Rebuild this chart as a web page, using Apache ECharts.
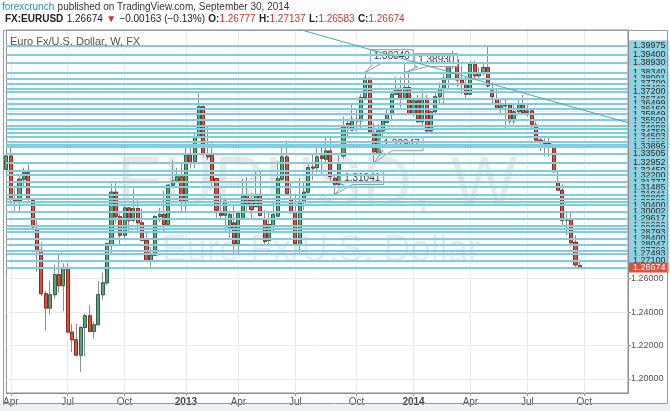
<!DOCTYPE html>
<html><head><meta charset="utf-8">
<script src="https://cdn.jsdelivr.net/npm/echarts@6/dist/echarts.min.js"></script>
<style>html,body{margin:0;padding:0;background:#fff;overflow:hidden}#c{width:670px;height:411px}</style>
</head><body><div id="c"></div>
<script>
// ---- data ----
const startWeek = [2012, 2, 26];      // first weekly bar (Mon 26 Mar 2012)
const totalSlots = 143;               // bars + empty future slots on the axis
const tickIdx  = [1, 14, 27, 41, 53, 66, 80, 93, 106, 119, 132];
const tickText = ['Apr','Jul','Oct','2013','Apr','Jul','Oct','2014','Apr','Jul','Oct'];

const opens = [1.3255,1.3335,1.3079,1.3068,1.3195,1.3235,1.3068,1.2900,1.2770,1.2510,1.2424,1.2504,1.2624,1.2558,1.2660,1.2280,1.2234,1.2142,1.2308,1.2378,
1.2284,1.2324,1.2504,1.2575,1.2804,1.3118,1.2971,1.2860,1.3024,1.2950,1.3020,1.2935,1.2830,1.2710,1.2740,1.2972,1.2985,1.2925,1.3160,1.3185,
1.3210,1.3060,1.3340,1.3300,1.3450,1.3630,1.3345,1.3340,1.3200,1.2990,1.2980,1.2894,1.2934,1.2810,1.2958,1.3100,1.3070,1.3031,1.3105,1.2960,
1.2830,1.2918,1.2974,1.3195,1.3329,1.3074,1.2998,1.2800,1.3058,1.3118,1.3268,1.3265,1.3335,1.3315,1.3365,1.3201,1.3165,1.3335,1.3529,1.3490,
1.3555,1.3545,1.3685,1.3800,1.3477,1.3345,1.3485,1.3535,1.3590,1.3705,1.3740,1.3675,1.3745,1.3590,1.3665,1.3540,1.3680,1.3485,1.3600,1.3690,
1.3740,1.3800,1.3910,1.3910,1.3790,1.3765,1.3705,1.3885,1.3815,1.3830,1.3865,1.3725,1.3675,1.3620,1.3635,1.3640,1.3545,1.3600,1.3645,1.3595,
1.3605,1.3520,1.3430,1.3420,1.3410,1.3400,1.3178,1.3130,1.2950,1.2958,1.2818,1.26777];
const highs = [1.3385,1.3385,1.3140,1.3214,1.3265,1.3283,1.3072,1.2950,1.2816,1.2525,1.2588,1.2684,1.2748,1.2692,1.2694,1.2330,1.2330,1.2314,1.2390,1.2444,
1.2345,1.2587,1.2637,1.2816,1.3170,1.3172,1.2990,1.3040,1.3030,1.3140,1.3070,1.3020,1.2880,1.2790,1.2980,1.3025,1.3125,1.3165,1.3308,1.3265,
1.3300,1.3403,1.3400,1.3480,1.3711,1.3640,1.3520,1.3410,1.3200,1.3110,1.3080,1.3000,1.3040,1.3000,1.3200,1.3210,1.3110,1.3240,1.3240,1.3010,
1.3000,1.3060,1.3305,1.3390,1.3416,1.3180,1.3110,1.3205,1.3180,1.3295,1.3345,1.3400,1.3390,1.3450,1.3450,1.3230,1.3340,1.3570,1.3545,1.3645,
1.3610,1.3705,1.3834,1.3800,1.3535,1.3525,1.3553,1.3620,1.3710,1.3810,1.3810,1.3893,1.3830,1.3685,1.3700,1.3740,1.3700,1.3620,1.3715,1.3775,
1.3825,1.3915,1.3967,1.3935,1.3875,1.3810,1.3905,1.3905,1.3865,1.3890,1.3993,1.3775,1.3735,1.3675,1.3670,1.3645,1.3645,1.3680,1.3700,1.3650,
1.3615,1.3540,1.3445,1.3440,1.3445,1.3400,1.3245,1.3165,1.2990,1.3000,1.2860,1.27137];
const lows = [1.3212,1.3034,1.3003,1.2996,1.3150,1.3067,1.2900,1.2641,1.2495,1.2288,1.2385,1.2480,1.2515,1.2405,1.2280,1.2160,1.2143,1.2042,1.2135,1.2280,
1.2241,1.2320,1.2475,1.2560,1.2750,1.2930,1.2802,1.2835,1.2880,1.2940,1.2880,1.2830,1.2700,1.2661,1.2735,1.2940,1.2880,1.2925,1.3150,1.3180,
1.3000,1.2997,1.3260,1.3260,1.3440,1.3330,1.3310,1.3140,1.2965,1.2955,1.2880,1.2845,1.2745,1.2745,1.2955,1.2995,1.2950,1.3030,1.2975,1.2800,
1.2800,1.2880,1.2970,1.3180,1.3100,1.2990,1.2800,1.2755,1.3010,1.3110,1.3190,1.3235,1.3220,1.3300,1.3180,1.3104,1.3150,1.3320,1.3445,1.3490,
1.3480,1.3490,1.3675,1.3470,1.3295,1.3345,1.3400,1.3535,1.3545,1.3700,1.3625,1.3670,1.3590,1.3570,1.3530,1.3515,1.3480,1.3477,1.3580,1.3650,
1.3640,1.3730,1.3855,1.3750,1.3705,1.3670,1.3700,1.3790,1.3795,1.3815,1.3745,1.3645,1.3615,1.3585,1.3503,1.3525,1.3525,1.3590,1.3585,1.3570,
1.3490,1.3420,1.3365,1.3335,1.3330,1.3240,1.3130,1.2920,1.2860,1.2810,1.2665,1.26583];
const closes = [1.3335,1.3079,1.3068,1.3195,1.3235,1.3080,1.2910,1.2770,1.2510,1.2424,1.2504,1.2624,1.2558,1.2660,1.2280,1.2234,1.2142,1.2308,1.2378,1.2284,
1.2324,1.2504,1.2575,1.2810,1.3118,1.2971,1.2860,1.3024,1.2950,1.3020,1.2935,1.2830,1.2710,1.2740,1.2972,1.2985,1.2925,1.3160,1.3185,1.3210,
1.3060,1.3340,1.3300,1.3450,1.3630,1.3345,1.3330,1.3180,1.3010,1.2980,1.3064,1.2984,1.2810,1.2990,1.3094,1.3042,1.3014,1.3105,1.2978,1.2824,
1.2924,1.2984,1.3199,1.3329,1.3109,1.2998,1.2810,1.3054,1.3118,1.3265,1.3262,1.3329,1.3320,1.3365,1.3211,1.3165,1.3289,1.3509,1.3509,1.3555,
1.3545,1.3685,1.3800,1.3477,1.3360,1.3485,1.3545,1.3590,1.3705,1.3740,1.3675,1.3745,1.3590,1.3665,1.3540,1.3680,1.3485,1.3600,1.3690,1.3740,
1.3800,1.3910,1.3910,1.3790,1.3765,1.3705,1.3885,1.3815,1.3830,1.3865,1.3755,1.3690,1.3620,1.3635,1.3640,1.3545,1.3600,1.3645,1.3595,1.3605,
1.3525,1.3430,1.3420,1.3410,1.3400,1.3240,1.3130,1.2950,1.2960,1.2815,1.2683,1.26674];

const levels = [1.39975,1.39400,1.38930,1.38340,1.38001,1.37700,1.37402,1.37200,1.36749,1.36499,1.36150,1.35849,1.35500,1.35150,1.34998,
1.34750,1.34503,1.34200,1.34050,1.33895,1.33505,1.32952,1.32450,1.32200,1.31777,1.31485,1.31041,1.30805,1.30580,1.30400,1.30002,
1.29617,1.29200,1.29000,1.28793,1.28400,1.28047,1.27700,1.27493,1.27100];

const trendIdx   = [60, 142];
const trendPrice = [1.4145, 1.3534];

const calloutIdx   = [75, 84, 82, 91];
const calloutPrice = [1.31041, 1.32947, 1.38340, 1.38340];
const calloutText  = ['1.31041', '1.32947', '1.38340', '1.38930'];

// ---- build ----
const weeks = [];
for (let i = 0; i < totalSlots; i++) {
  const d = new Date(Date.UTC(startWeek[0], startWeek[1], startWeek[2] + 7 * i));
  weeks.push(d.toISOString().slice(0, 10));
}
const tickMap = {};
tickIdx.forEach((k, j) => tickMap[k] = tickText[j]);
const isTick = (i) => tickMap[i] !== undefined;

const wickData = opens.map((o, i) => [o, closes[i], lows[i], highs[i]]);
const bodyData = opens.map((o, i) => [o, closes[i], Math.min(o, closes[i]), Math.max(o, closes[i])]);
const lastClose = closes[closes.length - 1];
const FONT = '"Liberation Sans", Arial, sans-serif';

const chart = echarts.init(document.getElementById('c'), null, {renderer: 'canvas'});
const option = {
  animation: false,
  backgroundColor: '#ffffff',
  textStyle: {fontFamily: FONT},
  grid: {left: 4, right: 42, top: 30, bottom: 18, show: true, borderColor: '#8c8c8c', borderWidth: 1, backgroundColor: 'transparent'},
  xAxis: {
    type: 'category', data: weeks, boundaryGap: false,
    axisLine: {show: true, lineStyle: {color: '#8c8c8c'}},
    axisTick: {show: true, interval: (i) => isTick(i), length: 3, lineStyle: {color: '#999'}},
    axisLabel: {
      interval: (i) => isTick(i), color: '#555', fontSize: 10, margin: 4, fontFamily: FONT,
      formatter: (v, i) => { const t = tickMap[i]; return /^\d{4}$/.test(t) ? '{b|' + t + '}' : t; },
      rich: {b: {fontWeight: 'bold', color: '#444', fontSize: 10, fontFamily: FONT}}
    },
    splitLine: {show: true, interval: (i) => isTick(i), lineStyle: {color: '#ebebeb'}}
  },
  yAxis: {
    type: 'value', position: 'right', min: 1.19153, max: 1.40895, splitNumber: 10, scale: true,
    axisLine: {show: true, lineStyle: {color: '#8c8c8c'}},
    axisTick: {show: true, length: 3, lineStyle: {color: '#999'}},
    axisLabel: {color: '#555', fontSize: 9, margin: 3, showMinLabel: false, showMaxLabel: false, fontFamily: FONT,
      formatter: (v) => v < 1.2605 ? v.toFixed(5) : ''},
    splitLine: {show: true, lineStyle: {color: '#ebebeb'}}
  },
  series: [
    {
      type: 'candlestick', name: 'wick', data: wickData, barWidth: 3.6, z: 2, silent: true,
      itemStyle: {color: 'rgba(0,0,0,0)', color0: 'rgba(0,0,0,0)', borderColor: '#8e8e8e', borderColor0: '#8e8e8e', borderWidth: 1}
    },
    {
      type: 'candlestick', name: 'body', data: bodyData, barWidth: 3.6, z: 3, silent: true,
      itemStyle: {color: '#5fa07a', color0: '#d9503e', borderColor: '#2c6443', borderColor0: '#8a2a1f', borderWidth: 1}
    },
    {
      type: 'line', name: 'levels', data: [], z: 6, silent: true,
      markLine: {
        silent: true, symbol: ['none', 'none'], animation: false, precision: 5,
        lineStyle: {color: '#7fcde0', width: 2, type: 'solid', opacity: 1},
        label: {show: true, position: 'end', distance: 1, formatter: (p) => Number(p.value).toFixed(5),
          backgroundColor: '#8fd3e2', color: '#2a2a2a', fontSize: 9, padding: [1, 3, 0, 4], fontFamily: FONT},
        emphasis: {disabled: true},
        data: levels.map(v => ({yAxis: v})).concat([{
          yAxis: lastClose,
          lineStyle: {color: '#7fcde0', width: 2},
          label: {backgroundColor: '#e0503f', color: '#ffffff'}
        }])
      }
    },
    {
      type: 'line', name: 'trend', data: trendIdx.map((x, i) => [x, trendPrice[i]]), z: 7, silent: true,
      symbol: 'none', clip: true, lineStyle: {color: '#45b09b', width: 1}
    }
  ]
};
chart.setOption(option);

// ---- annotations (positions from data via the chart's scales) ----
const g = [];
g.push({type: 'rect', shape: {x: 0, y: 404, width: 670, height: 7}, style: {fill: '#eef1f4'}, z: 0, silent: true});
g.push({type: 'rect', shape: {x: 3.5, y: 30.5, width: 664, height: 373}, style: {fill: 'none', stroke: '#9a9a9a', lineWidth: 1}, z: 10, silent: true});
g.push({type: 'text', x: 317, y: 187, z: 0, silent: true, style: {text: 'EURUSD, W', fontSize: 70, fontFamily: FONT, fill: 'rgba(0,0,0,0.085)', align: 'center', verticalAlign: 'middle'}});
g.push({type: 'text', x: 321, y: 251, z: 0, silent: true, style: {text: 'Euro Fx/U.S. Dollar', fontSize: 37, fontFamily: FONT, fill: 'rgba(0,0,0,0.085)', align: 'center', verticalAlign: 'middle'}});
g.push({type: 'text', x: 2, y: 7, z: 10, style: {
  text: '{a|forexcrunch} {b|published on TradingView.com, September 30, 2014}', verticalAlign: 'middle',
  rich: {a: {fill: '#2a8ec0', fontSize: 10, fontFamily: FONT}, b: {fill: '#333', fontSize: 10, fontFamily: FONT}}}});
g.push({type: 'text', x: 5, y: 19, z: 10, style: {
  text: '{k|FX:EURUSD} {n|1.26674} {r|▼} {n|\u22120.00163 (\u22120.13%)} {k|O:}{r|1.26777} {k|H:}{r|1.27137} {k|L:}{r|1.26583} {k|C:}{r|1.26674}',
  verticalAlign: 'middle',
  rich: {k: {fontWeight: 'bold', fill: '#222', fontSize: 10, fontFamily: FONT},
         n: {fill: '#222', fontSize: 10, fontFamily: FONT},
         r: {fill: '#c8352b', fontSize: 10, fontFamily: FONT}}}});
g.push({type: 'text', x: 10, y: 42, z: 10, style: {text: 'Euro Fx/U.S. Dollar, W, FX', fontSize: 11, fontFamily: FONT, fill: '#555', verticalAlign: 'middle'}});
const calloutOff = [[6, -10], [6, -12], [5, -10], [10, -6]];
calloutIdx.forEach((ix, k) => {
  const p = chart.convertToPixel({xAxisIndex: 0, yAxisIndex: 0}, [ix, calloutPrice[k]]);
  const ax = p[0], ay = p[1];
  const w = 43, h = 13;
  const bx = ax + calloutOff[k][0], by = ay + calloutOff[k][1] - h;
  g.push({type: 'polygon', z: 4, silent: true,
    shape: {points: [[bx, by], [bx + w, by], [bx + w, by + h], [bx + 12, by + h], [ax, ay], [bx + 3, by + h], [bx, by + h]]},
    style: {fill: '#f3f8fa', stroke: '#9b9b9b', lineWidth: 1}});
  g.push({type: 'circle', z: 4, silent: true, shape: {cx: ax, cy: ay, r: 1.3}, style: {fill: '#888'}});
  g.push({type: 'text', z: 4, silent: true, x: bx + w / 2, y: by + h / 2 + 0.5,
    style: {text: calloutText[k], fontSize: 10, fontFamily: FONT, fill: '#444', align: 'center', verticalAlign: 'middle'}});
});
chart.setOption({graphic: g});
</script></body></html>
